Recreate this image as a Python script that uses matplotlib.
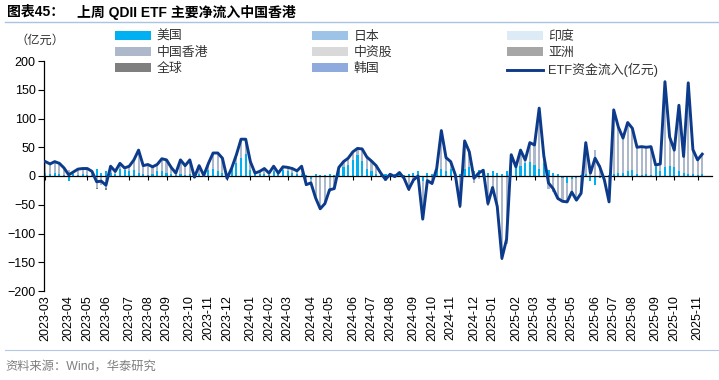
import numpy as np
import pandas as pd
import matplotlib
matplotlib.use("Agg")
import matplotlib.pyplot as plt
from matplotlib.patches import Patch
from matplotlib.lines import Line2D
from matplotlib.transforms import blended_transform_factory

plt.rcParams["font.family"] = ["Liberation Sans", "Noto Sans CJK SC"]

# weekly observations, Friday of each week
weeks = pd.date_range("2023-03-03", "2025-11-14", freq="7D")

# ETF资金流入(亿元) - total weekly net inflow
etf_total = [25, 21, 25, 22, 14, 2, 7, 12, 13, 13, 8, -10, -9, -16, 17, 8, 22, 14, 17, 28,
             45, 18, 20, 16, 20, 30, 28, 15, 5, 28, 18, 28, -2, 18, 1, 22, 40, 40, 31, -4,
             14, 37, 64, 64, 25, 5, 8, 13, 5, 17, 5, 16, 15, 13, 9, 17, -15, -12, -38, -57,
             -48, -24, -22, 15, 25, 31, 42, 48, 47, 33, 26, 18, 5, -6, 3, -1, 6, -4, -23, -7,
             0, -75, -8, -13, 13, 79, 32, 25, 2, -52, 61, 42, -4, 5, 10, -48, -20, -53, -143, -110,
             37, 16, 45, 28, 58, 54, 118, 35, -12, -22, -39, -44, -45, -28, -42, -30, 58, 5, 31, 16,
             -7, -45, 115, 85, 66, 93, 83, 50, 51, 50, 51, 19, 21, 164, 68, 45, 123, 34, 162, 46,
             28, 38]

# 美国
us_flow = [5, 3, 5, 3, 2, -8, 3, 2, 3, 2, 2, 12, 6, 8, 5, 4, 12, 10, 8, 10,
           5, 3, 2, 3, 8, 8, 5, 3, 2, 3, 2, 4, 2, 3, 2, 10, 12, 8, 5, 2,
           15, 22, 32, 38, 10, 3, 4, 3, 2, 8, 6, 10, 8, 5, 4, 3, 2, -5, 3, 2,
           2, 3, 2, 8, 15, 20, 28, 36, 26, 12, 8, 3, 2, 3, 5, 3, 4, 2, 3, 5,
           8, -8, 5, 3, 10, 12, 8, 12, 5, 3, 12, 15, 8, 10, 12, 5, 8, 5, 3, 8,
           10, 15, 18, 22, 25, 20, 12, 22, 10, 5, 3, -3, -12, -5, -3, 2, 3, -8, -15, -3,
           -5, 2, 4, 5, 5, 8, 10, 3, 2, 3, 2, 15, 8, 15, 18, 15, 8, 6, 4, 3,
           2, 3]

# 中国香港
hk_flow = [20, 18, 20, 19, 12, 10, 4, 10, 10, 11, 6, -20, -15, -21, 12, 4, 10, 4, 9, 18,
           40, 15, 18, 13, 12, 22, 23, 12, 3, 25, 16, 24, -1, 15, -1, 12, 28, 32, 26, -3,
           -1, 15, 32, 26, 15, 2, 4, 10, 3, 9, -1, 6, 7, 8, 5, 14, -17, -5, -41, -56,
           -50, -27, -24, 7, 10, 11, 14, 12, 21, 21, 18, 15, 3, -9, -2, -4, 2, -6, -23, -12,
           -8, -64, -13, -16, 3, 67, 24, 13, -3, -51, 49, 27, -12, -5, -2, -53, -28, -58, -141, -118,
           27, 1, 27, 6, 33, 34, 106, 13, -22, -27, -39, -41, -30, -23, -39, -32, 55, 13, 46, 19,
           -2, -44, 111, 80, 61, 85, 73, 47, 49, 47, 49, 4, 13, 149, 50, 30, 115, 28, 158, 43,
           26, 35]

# 全球 (only a few small weeks, keyed by week number)
global_flow = {11: -2, 13: -3, 32: -3, 39: -3, 57: -2, 59: -3, 78: -3, 81: -3,
               89: -4, 98: -5, 110: -3, 112: -3, 121: -3}

colors = {
    "美国": "#00B0F0", "日本": "#9DC3E6", "印度": "#DDEBF7",
    "中国香港": "#ADB9CA", "中资股": "#D9D9D9", "亚洲": "#A6A6A6",
    "全球": "#7F7F7F", "韩国": "#8FAADC",
}
line_color = "#0D3B8C"

n = len(weeks)
x = np.arange(n)
glob = np.zeros(n)
for k, v in global_flow.items():
    glob[k] = v

fig = plt.figure(figsize=(7.19, 3.80), dpi=100)
ax = fig.add_axes([44 / 719, 1 - 291 / 380, (712 - 44) / 719, 230 / 380])

# stacked bars: positives up, negatives down
pos_base = np.zeros(n)
neg_base = np.zeros(n)
for vals, name in [(us_flow, "美国"), (hk_flow, "中国香港"), (glob, "全球")]:
    v = np.asarray(vals, dtype=float)
    bottom = np.where(v >= 0, pos_base, neg_base)
    ax.bar(x, v, width=0.45, bottom=bottom, color=colors[name], linewidth=0, zorder=2)
    pos_base += np.clip(v, 0, None)
    neg_base += np.clip(v, None, 0)

ax.plot(x, etf_total, color=line_color, lw=2.1, zorder=5, solid_joinstyle="round")

ax.set_xlim(-0.3, 143.1)
ax.set_ylim(-200, 200)
ax.set_yticks(np.arange(-200, 201, 50))
ax.tick_params(axis="y", direction="out", length=4, width=0.8, labelsize=9, pad=2)

for side in ["top", "right"]:
    ax.spines[side].set_visible(False)
ax.spines["bottom"].set_position(("data", 0))
ax.spines["left"].set_linewidth(0.9)
ax.spines["bottom"].set_linewidth(0.9)

month_start = ~weeks.to_period("M").duplicated()
tick_idx = x[month_start]
tick_lab = weeks[month_start].strftime("%Y-%m")
ax.set_xticks(tick_idx)
ax.tick_params(axis="x", direction="out", length=3, width=0.8, labelbottom=False)

trans = blended_transform_factory(ax.transData, ax.transAxes)
for i, lab in zip(tick_idx, tick_lab):
    ax.text(i, -0.018, lab, transform=trans, rotation=90, ha="center", va="top", fontsize=9)

# legend in three columns
handles = {name: Patch(facecolor=c, edgecolor="none") for name, c in colors.items()}
handles["ETF资金流入(亿元)"] = Line2D([], [], color=line_color, lw=2.1)
columns = [(["美国", "中国香港", "全球"], 115),
           (["日本", "中资股", "韩国"], 312),
           (["印度", "亚洲", "ETF资金流入(亿元)"], 507)]
for names, px in columns:
    fig.legend([handles[nm] for nm in names], names, loc="upper left",
               bbox_to_anchor=(px / 719, 1 - 31 / 380), frameon=False, fontsize=9.3,
               handlelength=2.8, handleheight=0.65, handletextpad=0.4,
               labelspacing=0.3, borderpad=0, borderaxespad=0, labelcolor="#333333")

fig.text(16 / 719, 1 - 41 / 380, "（亿元）", fontsize=8.8, va="center", ha="left", color="#333333")

# title and source
fig.text(7 / 719, 1 - 12 / 380, "图表45：", fontsize=10, fontweight="bold", va="center")
fig.text(77 / 719, 1 - 12 / 380, "上周 QDII ETF 主要净流入中国香港", fontsize=10,
         fontweight="bold", va="center")
fig.add_artist(Line2D([5 / 719, 1], [1 - 22 / 380] * 2, color="#A9C4E3", lw=1.0))
fig.add_artist(Line2D([5 / 719, 1], [1 - 350 / 380] * 2, color="#B4C7E7", lw=0.8))
fig.text(5 / 719, 1 - 367 / 380, "资料来源：Wind，华泰研究", fontsize=8.8, va="center", color="#7F7F7F")

fig.savefig("out.png", dpi=100)
